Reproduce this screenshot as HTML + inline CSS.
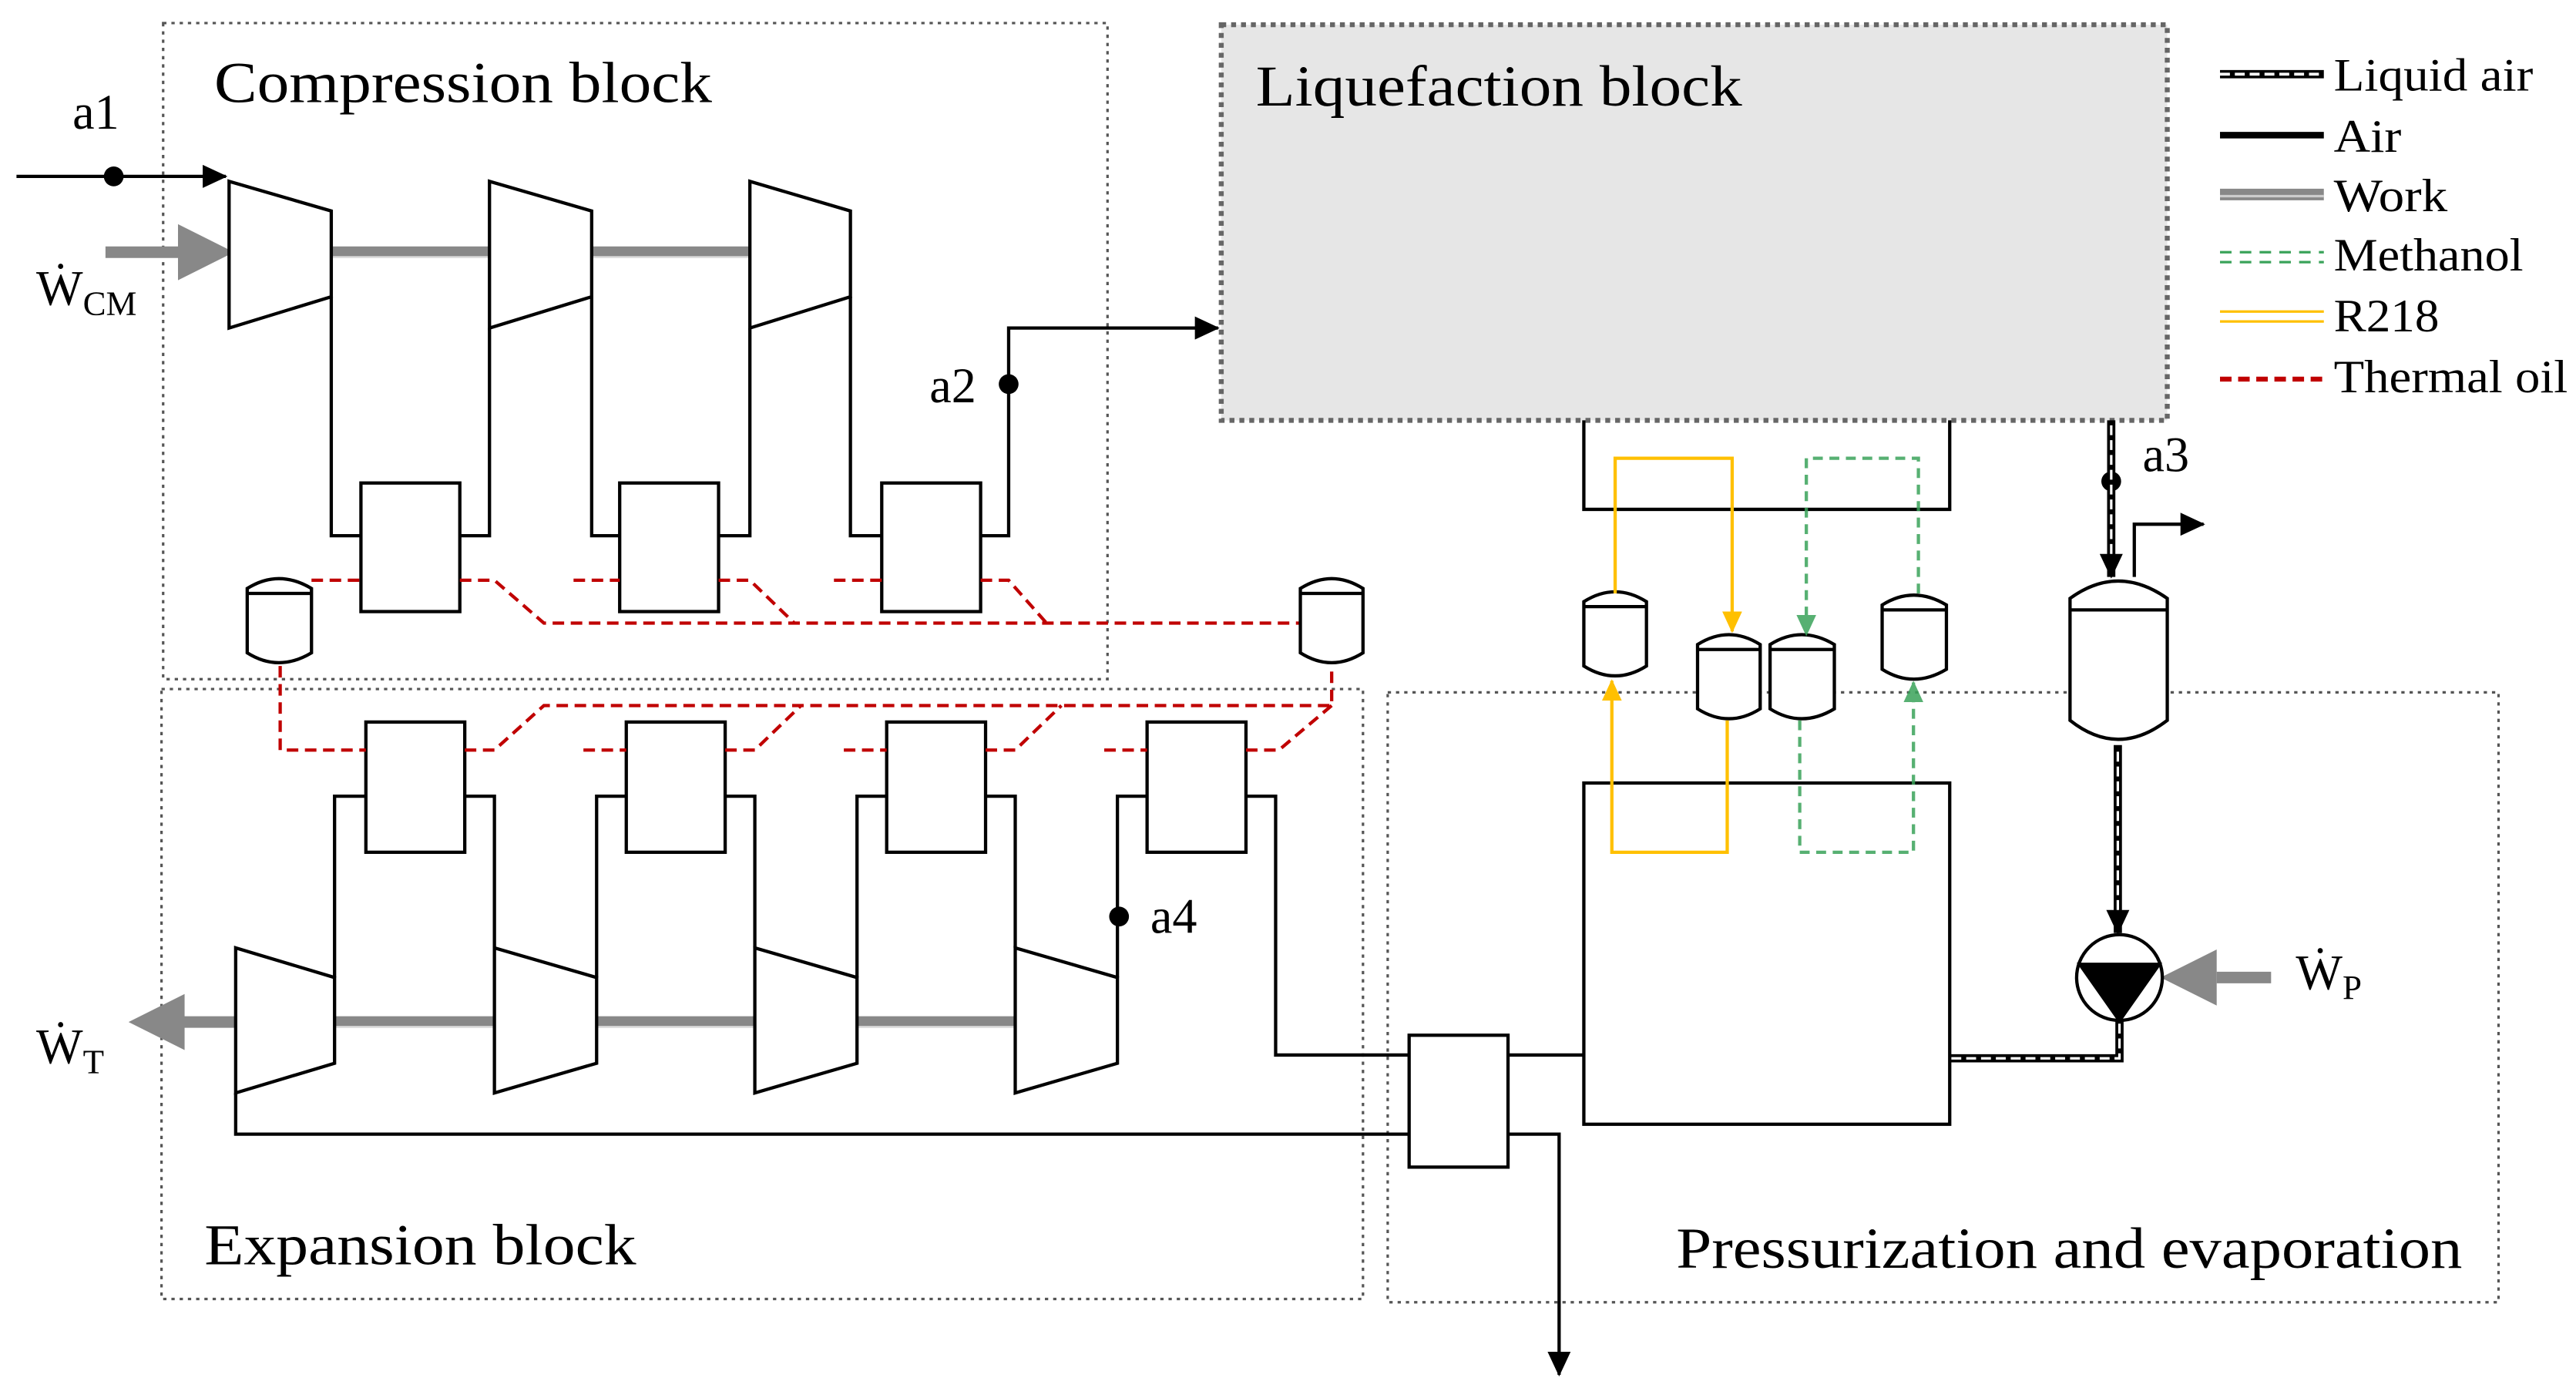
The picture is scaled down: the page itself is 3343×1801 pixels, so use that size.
<!DOCTYPE html>
<html><head><meta charset="utf-8"><style>html,body{margin:0;padding:0;background:#fff}svg{display:block}</style></head>
<body>
<svg xmlns="http://www.w3.org/2000/svg" width="3343" height="1801" viewBox="0 0 1563 842" preserveAspectRatio="none" font-family="Liberation Serif, serif">
<defs>
<marker id="ab" markerWidth="15" markerHeight="14" refX="14" refY="7" orient="auto" markerUnits="userSpaceOnUse"><path d="M0,0 L15,7 L0,14z" fill="#000"/></marker>
<marker id="ay" markerWidth="13" markerHeight="12" refX="12" refY="6" orient="auto" markerUnits="userSpaceOnUse"><path d="M0,0 L13,6 L0,12z" fill="#ffc000"/></marker>
<marker id="ag" markerWidth="13" markerHeight="12" refX="12" refY="6" orient="auto" markerUnits="userSpaceOnUse"><path d="M0,0 L13,6 L0,12z" fill="#3aa35a"/></marker>
</defs>
<rect width="1563" height="842" fill="#fff"/>
<rect x="99" y="14" width="573" height="398" fill="none" stroke="#555" stroke-width="1.5" stroke-dasharray="2,3"/>
<rect x="98" y="418" width="729" height="370" fill="none" stroke="#555" stroke-width="1.5" stroke-dasharray="2,3"/>
<rect x="842" y="420" width="674" height="370" fill="none" stroke="#555" stroke-width="1.5" stroke-dasharray="2,3"/>
<rect x="741" y="15" width="574" height="240" fill="#e6e6e6" stroke="#666" stroke-width="3" stroke-dasharray="3,3"/>
<g font-size="35" fill="#000">
<text x="130" y="62" textLength="302" lengthAdjust="spacingAndGlyphs">Compression block</text>
<text x="762" y="64" textLength="295" lengthAdjust="spacingAndGlyphs">Liquefaction block</text>
<text x="124" y="767" textLength="262" lengthAdjust="spacingAndGlyphs">Expansion block</text>
<text x="1017" y="769" textLength="477" lengthAdjust="spacingAndGlyphs">Pressurization and evaporation</text>
</g>
<g stroke-width="4">
<line x1="1347" y1="45" x2="1410" y2="45" stroke="#000" stroke-width="5"/>
<line x1="1347" y1="45" x2="1410" y2="45" stroke="#fff" stroke-width="1.8" stroke-dasharray="6,3"/>
<line x1="1347" y1="82" x2="1410" y2="82" stroke="#000"/>
<line x1="1347" y1="118" x2="1410" y2="118" stroke="#888" stroke-width="7"/>
<line x1="1347" y1="119" x2="1410" y2="119" stroke="#ccc" stroke-width="1.5"/>
<line x1="1347" y1="153" x2="1410" y2="153" stroke="#3aa35a" stroke-width="1.5" stroke-dasharray="7,5"/>
<line x1="1347" y1="159" x2="1410" y2="159" stroke="#3aa35a" stroke-width="1.5" stroke-dasharray="7,5"/>
<line x1="1347" y1="189" x2="1410" y2="189" stroke="#ffc000" stroke-width="1.5"/>
<line x1="1347" y1="195" x2="1410" y2="195" stroke="#ffc000" stroke-width="1.5"/>
<line x1="1347" y1="230" x2="1410" y2="230" stroke="#c00000" stroke-width="3" stroke-dasharray="7,4"/>
</g>
<g font-size="28">
<text x="1416" y="55" textLength="121" lengthAdjust="spacingAndGlyphs">Liquid air</text>
<text x="1416" y="92" textLength="41" lengthAdjust="spacingAndGlyphs">Air</text>
<text x="1416" y="128" textLength="69" lengthAdjust="spacingAndGlyphs">Work</text>
<text x="1416" y="164" textLength="115" lengthAdjust="spacingAndGlyphs">Methanol</text>
<text x="1416" y="201" textLength="64" lengthAdjust="spacingAndGlyphs">R218</text>
<text x="1416" y="238" textLength="142" lengthAdjust="spacingAndGlyphs">Thermal oil</text>
</g>
<g stroke="#888" stroke-width="7">
<line x1="201" y1="153" x2="297" y2="153"/><line x1="359" y1="153" x2="455" y2="153"/>
<line x1="203" y1="620" x2="300" y2="620"/><line x1="362" y1="620" x2="458" y2="620"/><line x1="520" y1="620" x2="616" y2="620"/>
<line x1="64" y1="153" x2="110" y2="153"/><line x1="110" y1="620" x2="143" y2="620"/><line x1="1345" y1="593" x2="1378" y2="593"/>
</g>
<g stroke="#ddd" stroke-width="1.2">
<line x1="201" y1="156" x2="297" y2="156"/><line x1="359" y1="156" x2="455" y2="156"/>
<line x1="203" y1="623" x2="616" y2="623"/>
</g>
<path d="M108,136 L142,153 L108,170z" fill="#888"/>
<path d="M112,603 L78,620 L112,637z" fill="#888"/>
<path d="M1345,576 L1311,593 L1345,610z" fill="#888"/>
<g fill="#fff" stroke="#000" stroke-width="2">
<path d="M139,110 L201,128 L201,180 L139,199z"/>
<path d="M297,110 L359,128 L359,180 L297,199z"/>
<path d="M455,110 L516,128 L516,180 L455,199z"/>
<path d="M143,575 L203,593 L203,645 L143,663z"/>
<path d="M300,575 L362,593 L362,645 L300,663z"/>
<path d="M458,575 L520,593 L520,645 L458,663z"/>
<path d="M616,575 L678,593 L678,645 L616,663z"/>
</g>
<g fill="none" stroke="#000" stroke-width="2">
<line x1="10" y1="107" x2="137" y2="107" marker-end="url(#ab)"/>
<path d="M201,180 V325 H219 M279,325 H297 V199"/>
<path d="M359,180 V325 H376 M436,325 H455 V199"/>
<path d="M516,180 V325 H535 M595,325 H612 V199 H739" marker-end="url(#ab)"/>
<path d="M203,593 V483 H222 M282,483 H300 V575"/>
<path d="M362,593 V483 H380 M440,483 H458 V575"/>
<path d="M520,593 V483 H538 M598,483 H616 V575"/>
<path d="M678,593 V483 H696 M756,483 H774 V640 H855"/>
<path d="M915,640 H961"/>
<path d="M143,663 V688 H855"/>
<path d="M915,688 H946 V834" marker-end="url(#ab)"/>
<path d="M1295,350 V318 H1337" marker-end="url(#ab)"/>
</g>
<g fill="#fff" stroke="#000" stroke-width="2">
<rect x="219" y="293" width="60" height="78"/><rect x="376" y="293" width="60" height="78"/><rect x="535" y="293" width="60" height="78"/>
<rect x="222" y="438" width="60" height="79"/><rect x="380" y="438" width="60" height="79"/><rect x="538" y="438" width="60" height="79"/><rect x="696" y="438" width="60" height="79"/>
<rect x="855" y="628" width="60" height="80"/>
<rect x="961" y="475" width="222" height="207"/>
</g>
<path d="M961,255 V309 H1183 V255" fill="none" stroke="#000" stroke-width="2"/>
<g fill="#000">
<circle cx="69" cy="107" r="6"/><circle cx="612" cy="233" r="6"/><circle cx="679" cy="556" r="6"/><circle cx="1281" cy="292" r="6"/>
</g>
<g font-size="30">
<text x="44" y="78">a1</text><text x="564" y="244">a2</text><text x="698" y="566">a4</text><text x="1300" y="286">a3</text>
<text x="22" y="185">Ẇ<tspan font-size="21" dy="6">CM</tspan></text>
<text x="22" y="645">Ẇ<tspan font-size="21" dy="6">T</tspan></text>
<text x="1393" y="600">Ẇ<tspan font-size="21" dy="6">P</tspan></text>
</g>
<g fill="none" stroke="#c00000" stroke-width="2" stroke-dasharray="7,4">
<path d="M189,352 H219 M279,352 H300 L330,378 H789"/>
<path d="M348,352 H376 M436,352 H455 L482,378"/>
<path d="M506,352 H535 M595,352 H612 L635,378"/>
<path d="M170,404 V455 H222 M282,455 H300 L330,428 H808 V404"/>
<path d="M354,455 H380 M440,455 H458 L486,428"/>
<path d="M512,455 H538 M598,455 H616 L644,428"/>
<path d="M670,455 H696 M756,455 H776 L808,428"/>
</g>
<g fill="#fff" stroke="#000" stroke-width="2">
<path d="M150,357 Q169,345 189,357 V396 Q169,408 150,396z"/><line x1="150" y1="360" x2="189" y2="360"/>
<path d="M789,357 Q808,345 827,357 V396 Q808,408 789,396z"/><line x1="789" y1="360" x2="827" y2="360"/>
<path d="M961,365 Q980,353 999,365 V404 Q980,416 961,404z"/><line x1="961" y1="368" x2="999" y2="368"/>
<path d="M1030,391 Q1049,379 1068,391 V430 Q1049,442 1030,430z"/><line x1="1030" y1="394" x2="1068" y2="394"/>
<path d="M1074,391 Q1093,379 1113,391 V430 Q1093,442 1074,430z"/><line x1="1074" y1="394" x2="1113" y2="394"/>
<path d="M1142,367 Q1161,355 1181,367 V406 Q1161,418 1142,406z"/><line x1="1142" y1="370" x2="1181" y2="370"/>
<path d="M1256,363 Q1285,342 1315,363 V437 Q1285,460 1256,437z"/><line x1="1256" y1="370" x2="1315" y2="370"/>
</g>
<g fill="none" stroke="#ffc000" stroke-width="2">
<path d="M980,360 V278 H1051 V383" marker-end="url(#ay)"/>
<path d="M1048,437 V517 H978 V413" marker-end="url(#ay)"/>
</g>
<g fill="none" stroke="#3aa35a" stroke-width="2" stroke-dasharray="6,4" opacity="0.85">
<path d="M1164,360 V278 H1096 V385" marker-end="url(#ag)"/>
<path d="M1092,437 V517 H1161 V414" marker-end="url(#ag)"/>
</g>
<g fill="none">
<path d="M1281,255 V350" stroke="#000" stroke-width="5" marker-end="url(#ab)"/>
<path d="M1281,258 V336" stroke="#fff" stroke-width="1.5" stroke-dasharray="6,3"/>
<path d="M1285,452 V566" stroke="#000" stroke-width="5" marker-end="url(#ab)"/>
<path d="M1285,456 V552" stroke="#fff" stroke-width="1.5" stroke-dasharray="6,3"/>
<path d="M1286,619 V642 H1183" stroke="#000" stroke-width="5"/>
<path d="M1286,621 V642 H1183" stroke="#fff" stroke-width="1.5" stroke-dasharray="6,3"/>
</g>
<circle cx="1286" cy="593" r="26" fill="#fff" stroke="#000" stroke-width="2"/>
<path d="M1260,584 L1312,584 L1286,621z" fill="#000"/>
</svg>
</body></html>
